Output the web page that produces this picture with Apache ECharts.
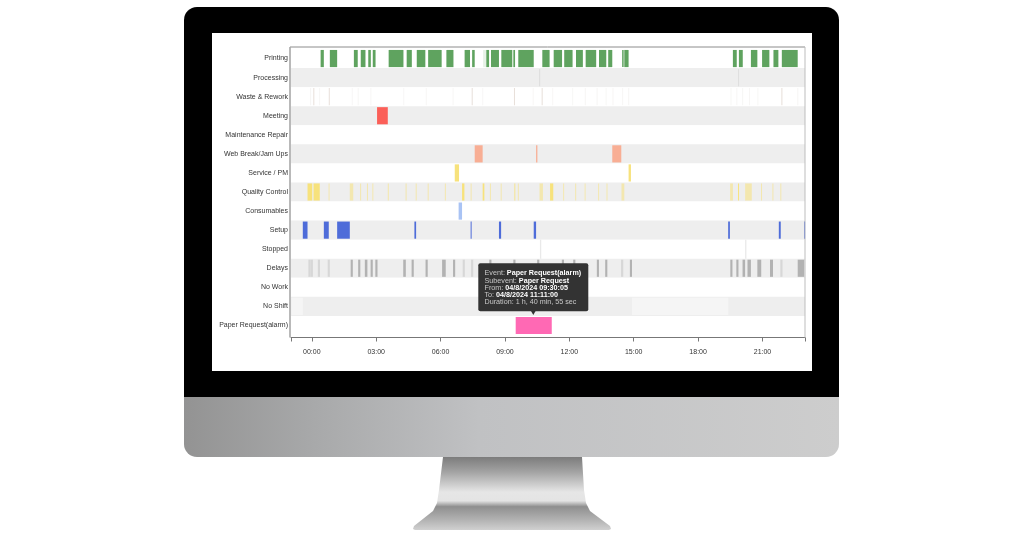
<!DOCTYPE html>
<html>
<head>
<meta charset="utf-8">
<title>Event timeline</title>
<style>
html, body { margin: 0; padding: 0; background: #fff; }
#main { width: 1024px; height: 536px; }
</style>
<script src="https://cdn.jsdelivr.net/npm/echarts@6/dist/echarts.min.js"></script>
</head>
<body>
<div id="main"></div>
<script>
// rows, top to bottom
var rowNames = ['Printing', 'Processing', 'Waste & Rework', 'Meeting', 'Maintenance Repair', 'Web Break/Jam Ups',
    'Service / PM', 'Quality Control', 'Consumables', 'Setup', 'Stopped', 'Delays', 'No Work', 'No Shift', 'Paper Request(alarm)'];

// ticks, in hours of the day
var labelHours = [0, 3, 6, 9, 12, 15, 18, 21];
var tickHours = [-0.97, 0, 3, 6, 9, 12, 15, 18, 21, 22.98];

// [from, to] in hours
var printingSpans = [[0.41, 0.56], [0.84, 1.18], [1.96, 2.14], [2.28, 2.50], [2.63, 2.75], [2.84, 2.97], [3.58, 4.27], [4.42, 4.66],
    [4.89, 5.29], [5.42, 6.05], [6.27, 6.60], [7.12, 7.37], [7.47, 7.59], [8.13, 8.26], [8.35, 8.72], [8.83, 9.34], [9.39, 9.47],
    [9.62, 10.34], [10.74, 11.08], [11.27, 11.66], [11.76, 12.15], [12.31, 12.63], [12.76, 13.25], [13.38, 13.72], [13.81, 14.00],
    [14.46, 14.53], [14.56, 14.76], [19.62, 19.80], [19.90, 20.08], [20.46, 20.76], [20.98, 21.32], [21.51, 21.74], [21.90, 22.64]];
var printingFaint = [[7.98, 8.13]];
var processingFaint = [[10.59, 10.63], [19.86, 19.90]];
var wasteStrong = [[0.07, 0.11], [0.79, 0.83], [7.45, 7.49], [9.42, 9.46], [10.71, 10.75], [21.88, 21.92]];
var wasteFaint = [[-0.08, -0.04], [0.34, 0.38], [1.86, 1.90], [2.14, 2.18], [2.73, 2.77], [4.26, 4.30], [5.31, 5.35], [6.56, 6.60],
    [7.94, 7.98], [10.29, 10.33], [11.20, 11.24], [12.13, 12.17], [12.72, 12.76], [13.27, 13.31], [13.69, 13.73], [14.01, 14.05],
    [14.46, 14.50], [14.74, 14.78], [19.51, 19.55], [19.78, 19.82], [20.05, 20.09], [20.37, 20.41], [20.76, 20.80], [22.62, 22.66]];
var meetingSpans = [[3.04, 3.54]];
var webBreakSpans = [[7.59, 7.96], [10.45, 10.51], [14.00, 14.42]];
var servicePmSpans = [[6.66, 6.86], [14.76, 14.87]];
var qualitySpans = [[-0.20, 0.02], [0.08, 0.37], [7.00, 7.11], [7.96, 8.04], [11.10, 11.25], [19.86, 19.90]];
var qualityFaint = [[0.78, 0.82], [1.77, 1.93], [2.25, 2.29], [2.57, 2.61], [2.82, 2.86], [3.54, 3.59], [4.37, 4.41], [4.84, 4.88],
    [5.40, 5.44], [6.20, 6.24], [7.40, 7.44], [8.30, 8.34], [8.80, 8.84], [9.42, 9.49], [9.60, 9.64], [10.61, 10.77], [11.71, 11.75],
    [12.27, 12.31], [12.71, 12.75], [13.34, 13.38], [13.73, 13.77], [14.43, 14.56], [19.49, 19.62], [20.19, 20.50], [20.93, 20.97],
    [21.46, 21.50], [21.83, 21.87]];
var consumablesSpans = [[6.84, 7.00]];
var setupSpans = [[-0.42, -0.20], [0.56, 0.79], [1.18, 1.77], [4.78, 4.86], [7.40, 7.44], [8.72, 8.82], [10.34, 10.45],
    [19.40, 19.48], [21.76, 21.85], [22.94, 22.98]];
var stoppedSpans = [[10.63, 10.69], [20.19, 20.25]];
var delaysSpans = [[1.81, 1.91], [2.16, 2.26], [2.47, 2.59], [2.74, 2.84], [2.96, 3.06], [4.26, 4.38], [4.65, 4.75], [5.30, 5.40],
    [6.07, 6.24], [6.58, 6.68], [8.27, 8.37], [9.39, 9.49], [10.50, 10.60], [11.65, 11.75], [12.18, 12.28], [13.28, 13.38], [13.67, 13.77],
    [14.82, 14.92], [19.50, 19.60], [19.78, 19.88], [20.07, 20.19], [20.30, 20.46], [20.76, 20.94], [21.35, 21.49], [22.64, 22.94]];
var delaysFaint = [[-0.16, -0.06], [-0.05, 0.05], [0.28, 0.38], [0.74, 0.84], [7.03, 7.13], [7.42, 7.52], [14.41, 14.51], [21.83, 21.93]];
var noShiftSpans = [[-0.95, -0.42], [14.92, 19.40]];
var paperRequestSpans = [[9.50, 11.18]];

var tipLines = [
    ['Event: ', 'Paper Request(alarm)'],
    ['Subevent: ', 'Paper Request'],
    ['From: ', '04/8/2024 09:30:05'],
    ['To: ', '04/8/2024 11:11:00'],
    ['Duration: 1 h, 40 min, 55 sec', '']
];

var myChart = echarts.init(document.getElementById('main'), null, {renderer: 'canvas'});

// row, spans, colour, opacity
var layers = [
    [0, printingSpans, '#5fa35f', 1],
    [0, printingFaint, '#5fa35f', 0.15],
    [1, processingFaint, '#d4d4d4', 0.6],
    [2, wasteStrong, '#c9b9aa', 0.45],
    [2, wasteFaint, '#d8d2cb', 0.2],
    [3, meetingSpans, '#fb5f58', 1],
    [5, webBreakSpans, '#f8ae94', 1],
    [6, servicePmSpans, '#f7e27c', 1],
    [7, qualitySpans, '#f7e27c', 1],
    [7, qualityFaint, '#f7e27c', 0.55],
    [8, consumablesSpans, '#a9c3f4', 1],
    [9, setupSpans, '#4e6cd9', 1],
    [10, stoppedSpans, '#e9e9e9', 1],
    [11, delaysSpans, '#b2b2b2', 1],
    [11, delaysFaint, '#c8c8c8', 0.6],
    [13, noShiftSpans, '#f5f5f5', 1],
    [14, paperRequestSpans, '#ff69b4', 1]
];

var spanData = [];
layers.forEach(function (layer) {
    layer[1].forEach(function (s) {
        spanData.push({value: [s[0], s[1], layer[0]], itemStyle: {color: layer[2], opacity: layer[3]}});
    });
});

function renderSpan(params, api) {
    var from = api.coord([api.value(0), api.value(2)]);
    var to = api.coord([api.value(1), api.value(2)]);
    var rowH = api.size([0, 1])[1];
    var h = rowH * 0.9;
    // stopped lines fill the whole band
    if (api.value(2) === 10) { h = rowH; }
    return {
        type: 'rect',
        shape: {x: from[0], y: from[1] - h / 2, width: Math.max(to[0] - from[0], 1), height: h},
        style: api.style()
    };
}

function tipText() {
    var out = [];
    tipLines.forEach(function (line, i) {
        out.push({
            type: 'text',
            z: 101,
            left: 484.5,
            top: 270 + i * 7.1,
            style: {
                text: '{l|' + line[0] + '}' + (line[1] ? '{b|' + line[1] + '}' : ''),
                rich: {
                    l: {fill: '#c9c9c9', font: '7.2px "Liberation Sans"'},
                    b: {fill: '#fff', font: 'bold 7.2px "Liberation Sans"'}
                }
            }
        });
    });
    return out;
}

var G = echarts.graphic;
var chinFill = new G.LinearGradient(0, 0, 1, 0, [
    {offset: 0, color: '#939393'},
    {offset: 0.2, color: '#a8a9aa'},
    {offset: 0.45, color: '#c0c1c3'},
    {offset: 1, color: '#cdcdcd'}
]);
var standFill = new G.LinearGradient(0, 0, 0, 1, [
    {offset: 0, color: '#7c7c7c'},
    {offset: 0.2, color: '#a2a2a2'},
    {offset: 0.48, color: '#e6e6e6'},
    {offset: 0.6, color: '#e4e4e4'},
    {offset: 0.68, color: '#8f8f8f'},
    {offset: 0.85, color: '#b0b0b0'},
    {offset: 1, color: '#d0d0d0'}
]);

var option = {
    animation: false,
    textStyle: {fontFamily: '"Liberation Sans", Arial, sans-serif'},
    graphic: {
        elements: [
            {type: 'rect', z: -5, shape: {x: 184, y: 7, width: 655, height: 391, r: [13, 13, 0, 0]}, style: {fill: '#000'}},
            {type: 'rect', z: -5, shape: {x: 184, y: 397, width: 655, height: 60, r: [0, 0, 13, 13]}, style: {fill: chinFill}},
            {type: 'polygon', z: -5, shape: {points: [[443, 457], [582, 457], [584, 490], [586, 503], [590, 511], [610, 526], [611, 529],
                [609, 530], [415, 530], [413, 529], [414, 526], [433, 511], [437, 503], [439, 490]]}, style: {fill: standFill}},
            {type: 'rect', z: -4, shape: {x: 212, y: 33, width: 600, height: 338}, style: {fill: '#fff'}},
            // plot frame
            {type: 'line', z: 50, shape: {x1: 290, y1: 47, x2: 805, y2: 47}, style: {stroke: '#8c8c8c', lineWidth: 1}},
            {type: 'line', z: 50, shape: {x1: 290, y1: 47, x2: 290, y2: 337.5}, style: {stroke: '#a8a8a8', lineWidth: 1.6}},
            {type: 'line', z: 50, shape: {x1: 805, y1: 47, x2: 805, y2: 337.5}, style: {stroke: '#bdbdbd', lineWidth: 1}},
            // tooltip of the paper request span
            {type: 'rect', z: 100, shape: {x: 478.3, y: 263.3, width: 110, height: 48, r: 2}, style: {fill: '#333'}},
            {type: 'polygon', z: 100, shape: {points: [[531, 311], [535.6, 311], [533.3, 315]]}, style: {fill: '#333'}}
        ].concat(tipText())
    },
    grid: {left: 291, right: 219, top: 49, height: 286},
    xAxis: {
        type: 'value',
        min: -0.97,
        max: 22.98,
        offset: 2.5,
        splitLine: {show: false},
        axisLine: {show: true, lineStyle: {color: '#777', width: 1}},
        axisTick: {show: true, length: 4, customValues: tickHours, lineStyle: {color: '#777'}},
        axisLabel: {
            customValues: labelHours,
            margin: 11,
            fontSize: 7,
            color: '#333',
            formatter: function (v) {
                return (v < 10 ? '0' : '') + v + ':00';
            }
        }
    },
    yAxis: {
        type: 'category',
        inverse: true,
        data: rowNames,
        axisLine: {show: false},
        axisTick: {show: false},
        splitLine: {show: false},
        splitArea: {show: true, areaStyle: {color: ['#fff', '#eeeeee']}},
        axisLabel: {interval: 0, margin: 3, fontSize: 7, color: '#333'}
    },
    series: [{
        type: 'custom',
        renderItem: renderSpan,
        encode: {x: [0, 1], y: 2},
        data: spanData
    }]
};

myChart.setOption(option);
</script>
</body>
</html>
